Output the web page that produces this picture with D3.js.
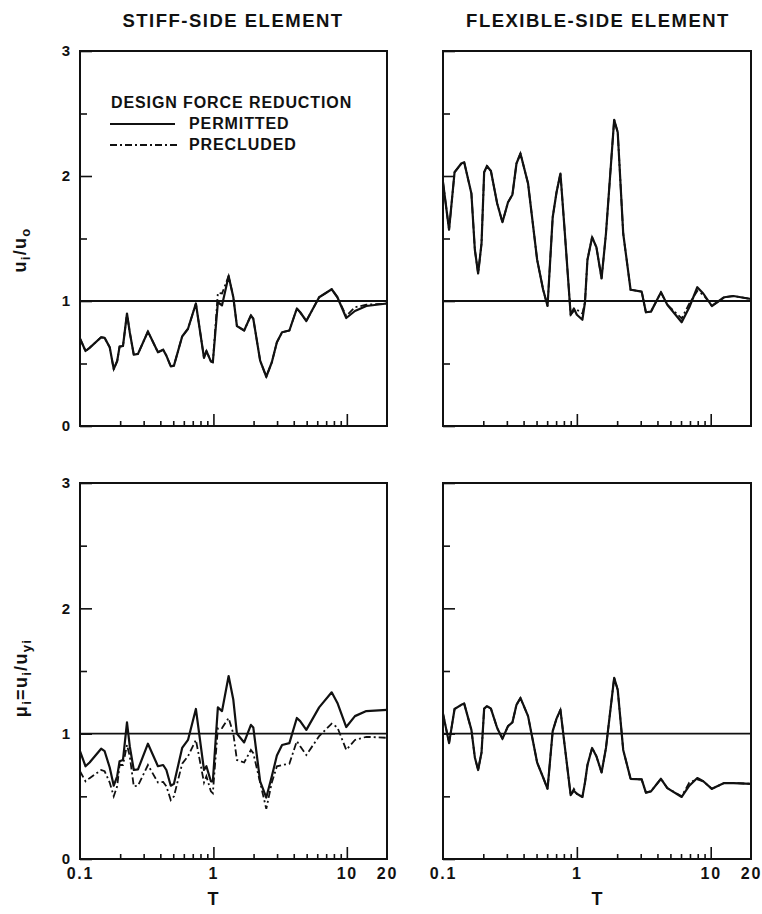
<!DOCTYPE html>
<html>
<head>
<meta charset="utf-8">
<script src="https://cdn.jsdelivr.net/npm/d3@7/dist/d3.min.js"></script>
<style>
  html, body { margin: 0; padding: 0; background: #fff; }
  svg { display: block; }
  text { font-family: "Liberation Sans", Arial, Helvetica, sans-serif; font-weight: bold; fill: #111; }
</style>
</head>
<body>
<svg id="chart" width="762" height="914"></svg>
<script>
// Period grids (s) at which each column's response was evaluated
const stiffPeriods = [0.1, 0.11, 0.118, 0.144, 0.153, 0.167, 0.179, 0.19, 0.198, 0.21,
  0.225, 0.236, 0.253, 0.272, 0.323, 0.384, 0.42, 0.444, 0.479, 0.506,
  0.583, 0.645, 0.739, 0.85, 0.886, 0.957, 0.99, 1.08, 1.16, 1.3,
  1.41, 1.5, 1.7, 1.91, 1.99, 2.24, 2.49, 2.74, 2.99, 3.27,
  3.71, 4.22, 4.47, 4.97, 6.2, 7.7, 8.5, 9.9, 11.5, 14, 20];

const flexPeriods = [0.1, 0.111, 0.122, 0.137, 0.144, 0.163, 0.173, 0.183, 0.194, 0.203,
  0.213, 0.228, 0.254, 0.278, 0.306, 0.33, 0.354, 0.379, 0.432, 0.505,
  0.56, 0.604, 0.66, 0.705, 0.754, 0.81, 0.899, 0.95, 1.0, 1.1,
  1.15, 1.2, 1.3, 1.4, 1.53, 1.65, 1.9, 2.02, 2.22, 2.52,
  3.05, 3.28, 3.58, 4.25, 4.74, 6.07, 6.92, 7.94, 8.8, 10.2, 12.6, 14.8, 20];

// Displacement ratio u_i/u_o, stiff-side element
const stiffDispPermitted = [0.70, 0.60, 0.625, 0.71, 0.705, 0.63, 0.455, 0.52, 0.635, 0.64,
  0.90, 0.75, 0.57, 0.577, 0.756, 0.59, 0.61, 0.563, 0.477, 0.483,
  0.716, 0.778, 0.98, 0.545, 0.60, 0.517, 0.51, 0.99, 0.965, 1.20,
  1.03, 0.80, 0.764, 0.885, 0.858, 0.523, 0.394, 0.51, 0.67, 0.75,
  0.764, 0.94, 0.91, 0.84, 1.03, 1.094, 1.03, 0.864, 0.92, 0.96, 0.98];
const stiffDispPrecluded = [0.70, 0.60, 0.625, 0.71, 0.705, 0.63, 0.455, 0.52, 0.635, 0.64,
  0.90, 0.75, 0.57, 0.577, 0.756, 0.59, 0.61, 0.563, 0.477, 0.483,
  0.716, 0.778, 0.98, 0.545, 0.60, 0.517, 0.51, 1.065, 1.06, 1.20,
  1.03, 0.80, 0.764, 0.885, 0.858, 0.523, 0.394, 0.51, 0.67, 0.75,
  0.764, 0.94, 0.91, 0.84, 1.03, 1.094, 1.03, 0.88, 0.95, 0.97, 0.98];

// Displacement ratio u_i/u_o, flexible-side element
const flexDispPermitted = [1.95, 1.57, 2.03, 2.10, 2.11, 1.86, 1.41, 1.22, 1.46, 2.03,
  2.08, 2.04, 1.78, 1.63, 1.79, 1.85, 2.10, 2.18, 1.94, 1.33,
  1.09, 0.96, 1.67, 1.87, 2.02, 1.57, 0.89, 0.94, 0.89, 0.85,
  0.99, 1.33, 1.51, 1.43, 1.18, 1.54, 2.45, 2.35, 1.54, 1.09,
  1.075, 0.91, 0.915, 1.07, 0.97, 0.83, 0.95, 1.11, 1.06, 0.96, 1.03, 1.04, 1.016];
const flexDispPrecluded = [1.95, 1.57, 2.03, 2.10, 2.11, 1.86, 1.41, 1.22, 1.46, 2.03,
  2.08, 2.04, 1.78, 1.63, 1.79, 1.85, 2.10, 2.18, 1.94, 1.33,
  1.09, 0.96, 1.67, 1.87, 2.02, 1.57, 0.89, 0.92, 0.93, 0.90,
  0.99, 1.33, 1.51, 1.43, 1.18, 1.54, 2.45, 2.35, 1.54, 1.09,
  1.075, 0.91, 0.915, 1.07, 0.97, 0.86, 0.98, 1.08, 1.05, 0.96, 1.03, 1.04, 1.016];

// Ductility demand mu_i = u_i/u_yi, stiff-side element
const stiffDuctPermitted = [0.86, 0.74, 0.77, 0.88, 0.86, 0.73, 0.585, 0.66, 0.78, 0.79,
  1.09, 0.90, 0.71, 0.715, 0.92, 0.74, 0.75, 0.71, 0.585, 0.60,
  0.886, 0.95, 1.197, 0.71, 0.74, 0.62, 0.62, 1.21, 1.18, 1.46,
  1.27, 1.0, 0.93, 1.07, 1.05, 0.62, 0.49, 0.66, 0.825, 0.91,
  0.925, 1.125, 1.10, 1.03, 1.21, 1.33, 1.245, 1.053, 1.14, 1.18, 1.19];
const stiffDuctPrecluded = [0.70, 0.62, 0.645, 0.71, 0.70, 0.61, 0.50, 0.58, 0.75, 0.75,
  0.91, 0.82, 0.58, 0.585, 0.75, 0.61, 0.615, 0.58, 0.47, 0.50,
  0.76, 0.82, 0.95, 0.61, 0.66, 0.54, 0.525, 1.045, 1.045, 1.125,
  1.0, 0.79, 0.77, 0.87, 0.845, 0.61, 0.40, 0.61, 0.74, 0.75,
  0.76, 0.94, 0.90, 0.83, 0.98, 1.08, 1.05, 0.87, 0.95, 0.975, 0.967];

// Ductility demand mu_i = u_i/u_yi, flexible-side element
const flexDuctPermitted = [1.16, 0.925, 1.197, 1.23, 1.24, 1.03, 0.81, 0.71, 0.85, 1.20,
  1.22, 1.20, 1.045, 0.96, 1.06, 1.09, 1.23, 1.285, 1.14, 0.77,
  0.65, 0.56, 1.02, 1.12, 1.19, 0.91, 0.51, 0.545, 0.52, 0.495,
  0.61, 0.75, 0.886, 0.82, 0.69, 0.886, 1.445, 1.35, 0.87, 0.64,
  0.635, 0.53, 0.54, 0.64, 0.566, 0.495, 0.585, 0.646, 0.62, 0.56, 0.606, 0.606, 0.60];
const flexDuctPrecluded = [1.16, 0.925, 1.197, 1.23, 1.24, 1.03, 0.81, 0.71, 0.85, 1.20,
  1.22, 1.20, 1.045, 0.96, 1.06, 1.09, 1.23, 1.285, 1.14, 0.77,
  0.65, 0.56, 1.02, 1.12, 1.19, 0.91, 0.51, 0.56, 0.52, 0.495,
  0.61, 0.75, 0.886, 0.82, 0.69, 0.886, 1.445, 1.35, 0.87, 0.64,
  0.635, 0.53, 0.54, 0.64, 0.566, 0.50, 0.61, 0.635, 0.62, 0.56, 0.606, 0.606, 0.60];

const columnTitles = ["STIFF-SIDE ELEMENT", "FLEXIBLE-SIDE ELEMENT"];
const yTickLabels = [0, 1, 2, 3];
const xTickLabels = [0.1, 1, 10, 20];
const legendTitle = "DESIGN FORCE REDUCTION";
const seriesNames = ["PERMITTED", "PRECLUDED"];

// ---- layout ----
const svg = d3.select("#chart");
const cols = [{ x0: 80, x1: 387 }, { x0: 443, x1: 751 }];
const rows = [{ y0: 51, y1: 426 }, { y0: 483, y1: 859 }];
const dashDot = "7,3,2,3";
const ink = "#111";

const panels = [
  { col: 0, row: 0, T: stiffPeriods, a: stiffDispPermitted, b: stiffDispPrecluded },
  { col: 1, row: 0, T: flexPeriods,  a: flexDispPermitted,  b: flexDispPrecluded },
  { col: 0, row: 1, T: stiffPeriods, a: stiffDuctPermitted, b: stiffDuctPrecluded },
  { col: 1, row: 1, T: flexPeriods,  a: flexDuctPermitted,  b: flexDuctPrecluded }
];

const minorY = [0.5, 1.5, 2.5];
const majorY = [0, 1, 2, 3];
const majorX = [1, 10];
const minorX = [];
[0.1, 1].forEach(d => { for (let k = 2; k <= 9; k++) minorX.push(+(d * k).toFixed(2)); });

function styleLabels(sel, size, spacing) {
  sel.selectAll("text")
    .attr("font-family", null).attr("font-size", null)
    .style("font-family", "'Liberation Sans', Arial, sans-serif")
    .style("font-weight", "bold").style("font-size", size + "px")
    .style("letter-spacing", spacing + "px").attr("fill", ink);
}

panels.forEach(p => {
  const c = cols[p.col], r = rows[p.row];
  const x = d3.scaleLog().domain([0.1, 20]).range([c.x0, c.x1]);
  const y = d3.scaleLinear().domain([0, 3]).range([r.y1, r.y0]);
  const g = svg.append("g");

  // inward ticks on the left edge
  g.append("g").attr("transform", `translate(${c.x0},0)`)
    .call(d3.axisRight(y).tickValues(majorY).tickSize(12).tickFormat(""))
    .call(s => s.select(".domain").remove());
  g.append("g").attr("transform", `translate(${c.x0},0)`)
    .call(d3.axisRight(y).tickValues(minorY).tickSize(7).tickFormat(""))
    .call(s => s.select(".domain").remove());

  // inward ticks on the bottom edge
  g.append("g").attr("transform", `translate(0,${r.y1})`)
    .call(d3.axisTop(x).tickValues(majorX).tickSize(12).tickFormat(""))
    .call(s => s.select(".domain").remove());
  g.append("g").attr("transform", `translate(0,${r.y1})`)
    .call(d3.axisTop(x).tickValues(minorX).tickSize(5).tickFormat(""))
    .call(s => s.select(".domain").remove());

  g.selectAll(".tick line").attr("stroke", ink).attr("stroke-width", 1.6);

  // reference line at unity
  g.append("line")
    .attr("x1", c.x0).attr("x2", c.x1)
    .attr("y1", y(1)).attr("y2", y(1))
    .attr("stroke", ink).attr("stroke-width", 1.8);

  const line = d3.line().x(d => x(d[0])).y(d => y(d[1]));
  g.append("path")
    .datum(p.T.map((t, i) => [t, p.b[i]]))
    .attr("d", line).attr("fill", "none")
    .attr("stroke", ink).attr("stroke-width", 1.8)
    .attr("stroke-dasharray", dashDot);
  g.append("path")
    .datum(p.T.map((t, i) => [t, p.a[i]]))
    .attr("d", line).attr("fill", "none")
    .attr("stroke", ink).attr("stroke-width", 2.2)
    .attr("stroke-linejoin", "round");

  // frame
  g.append("rect")
    .attr("x", c.x0).attr("y", r.y0)
    .attr("width", c.x1 - c.x0).attr("height", r.y1 - r.y0)
    .attr("fill", "none").attr("stroke", ink).attr("stroke-width", 2);

  // value labels on the left column
  if (p.col === 0) {
    g.append("g").attr("transform", `translate(${c.x0},0)`)
      .call(d3.axisLeft(y).tickValues(yTickLabels).tickSize(0).tickPadding(10).tickFormat(d3.format("d")))
      .call(s => s.select(".domain").remove())
      .call(s => styleLabels(s, 15, 0));
  }
  // period labels on the bottom row
  if (p.row === 1) {
    g.append("g").attr("transform", `translate(0,${r.y1})`)
      .call(d3.axisBottom(x).tickValues(xTickLabels).tickSize(0).tickPadding(9).tickFormat(d => String(d)))
      .call(s => s.select(".domain").remove())
      .call(s => styleLabels(s, 16, 1.8));
  }
});

// column titles
columnTitles.forEach((t, i) => {
  svg.append("text")
    .attr("x", i === 0 ? 233 : 598).attr("y", 27)
    .attr("text-anchor", "middle")
    .style("font-size", "18.5px").style("letter-spacing", "1.5px")
    .text(t);
});

// x axis titles
[{ x: 213 }, { x: 597 }].forEach(d => {
  svg.append("text").attr("x", d.x).attr("y", 905)
    .attr("text-anchor", "middle").style("font-size", "18px").text("T");
});

// y axis titles with subscripts
function yTitle(cx, cy, parts) {
  const t = svg.append("text")
    .attr("transform", `translate(${cx},${cy}) rotate(-90)`)
    .attr("text-anchor", "middle").style("font-size", "18px")
    .style("letter-spacing", "1.3px");
  parts.forEach(([s, sub]) => {
    t.append("tspan").text(s)
      .attr("baseline-shift", sub ? "-30%" : null)
      .style("font-size", sub ? "13px" : "18px");
  });
}
yTitle(26, 250, [["u", 0], ["i", 1], ["/u", 0], ["o", 1]]);
yTitle(27, 678, [["\u03bc", 0], ["i", 1], ["=u", 0], ["i", 1], ["/u", 0], ["yi", 1]]);

// legend
const lg = svg.append("g");
lg.append("text").attr("x", 111).attr("y", 108)
  .style("font-size", "16px").style("letter-spacing", "0.9px").text(legendTitle);
lg.append("line").attr("x1", 110).attr("x2", 175).attr("y1", 124).attr("y2", 124)
  .attr("stroke", ink).attr("stroke-width", 1.8);
lg.append("line").attr("x1", 110).attr("x2", 180).attr("y1", 145).attr("y2", 145)
  .attr("stroke", ink).attr("stroke-width", 1.8).attr("stroke-dasharray", dashDot);
seriesNames.forEach((n, i) => {
  lg.append("text").attr("x", 189).attr("y", 129 + i * 21)
    .style("font-size", "16px").style("letter-spacing", "0.9px").text(n);
});
</script>
</body>
</html>
